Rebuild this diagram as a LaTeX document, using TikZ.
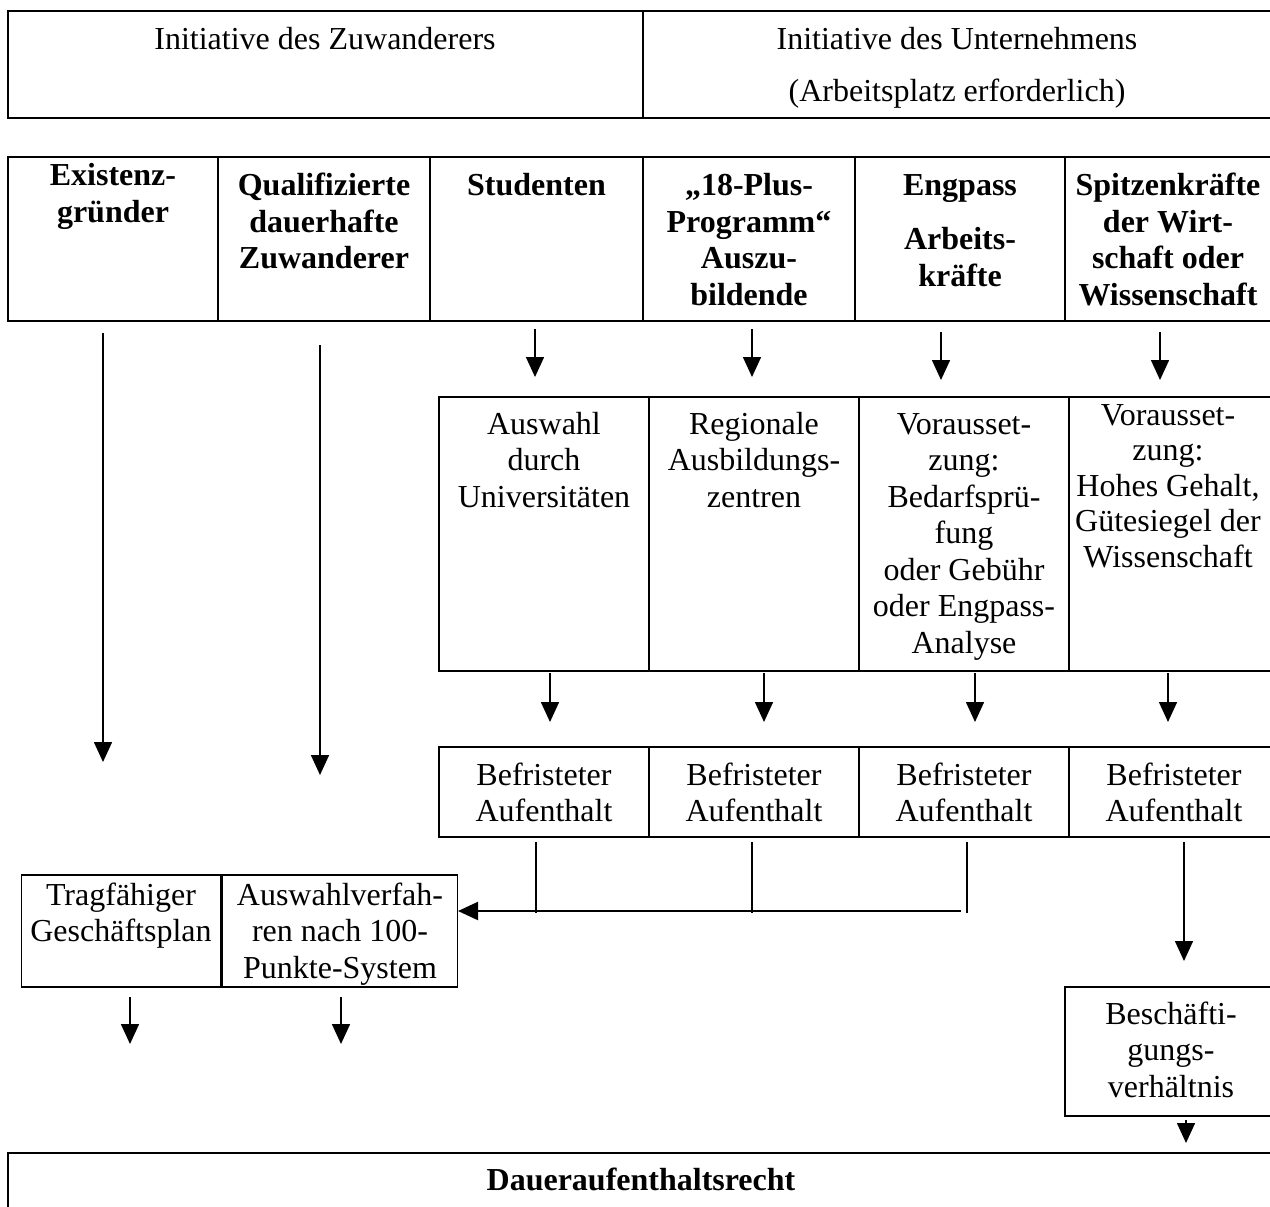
\documentclass[tikz,border=0pt]{standalone}
\usepackage{fontspec}
\setmainfont{Liberation Serif}
\usetikzlibrary{arrows.meta,fit}
\begin{document}
\begin{tikzpicture}[x=0.5pt,y=-0.5pt,
  box/.style={draw, line width=0.75pt, inner sep=0pt, rectangle},
  hbox/.style={box, line width=1pt},
  txt/.style={align=center, inner sep=0pt, anchor=north, font=\fontsize{16}{18.25}\selectfont},
  btxt/.style={txt, font=\fontsize{16}{18.25}\selectfont\bfseries},
  arr/.style={line width=0.8pt, -{Triangle[width=9pt,length=10pt]}},
  ln/.style={line width=0.7pt}]
\useasboundingbox (0,0) rectangle (1270,1206);
\clip (0,0) rectangle (1270,1206);

% Row 1
\node[hbox, fit={(8,11) (643,118)}] (r1a) {};
\node[hbox, fit={(643,11) (1276,118)}] (r1b) {};
\node[txt] (t1a) at (325,24) {\strut Initiative des Zuwanderers};
\node[txt] (t1b) at (957,24) {\strut Initiative des Unternehmens\\[7.5pt](Arbeitsplatz erforderlich)};

% Row 2
\node[hbox, fit={(8,157) (218,321)}] (r2a) {};
\node[hbox, fit={(218,157) (430,321)}] (r2b) {};
\node[hbox, fit={(430,157) (643,321)}] (r2c) {};
\node[hbox, fit={(643,157) (855,321)}] (r2d) {};
\node[hbox, fit={(855,157) (1065,321)}] (r2e) {};
\node[hbox, fit={(1065,157) (1276,321)}] (r2f) {};
\node[btxt] (t2a) at (113,160) {\strut Existenz-\\gründer};
\node[btxt] (t2b) at (324,170) {\strut Qualifizierte\\dauerhafte\\Zuwanderer};
\node[btxt] (t2c) at (536.5,170) {\strut Studenten};
\node[btxt] (t2d) at (749,170) {\strut „18-Plus-\\Programm“\\Auszu-\\bildende};
\node[btxt] (t2e) at (960,170) {\strut Engpass\\[8.75pt]Arbeits-\\kräfte};
\node[btxt] (t2f) at (1168,170) {\strut Spitzenkräfte\\der Wirt-\\schaft oder\\Wissenschaft};

% Row 3
\node[box, fit={(439,397) (649,671)}] (r3a) {};
\node[box, fit={(649,397) (859,671)}] (r3b) {};
\node[box, fit={(859,397) (1069,671)}] (r3c) {};
\node[box, fit={(1069,397) (1279,671)}] (r3d) {};
\node[txt] (t3a) at (544,408.5) {\strut Auswahl\\durch\\Universitäten};
\node[txt] (t3b) at (754,408.5) {\strut Regionale\\Ausbildungs-\\zentren};
\node[txt] (t3c) at (964,408.5) {\strut Vorausset-\\zung:\\Bedarfsprü-\\fung\\oder Gebühr\\oder Engpass-\\Analyse};
\node[txt, font=\fontsize{16}{17.75}\selectfont] (t3d) at (1168,400) {\strut Vorausset-\\zung:\\Hohes Gehalt,\\Gütesiegel der\\Wissenschaft};

% Row 4
\node[box, fit={(439,747) (649,837)}] (r4a) {};
\node[box, fit={(649,747) (859,837)}] (r4b) {};
\node[box, fit={(859,747) (1069,837)}] (r4c) {};
\node[box, fit={(1069,747) (1279,837)}] (r4d) {};
\node[txt] (t4a) at (544,759.5) {\strut Befristeter\\Aufenthalt};
\node[txt] (t4b) at (754,759.5) {\strut Befristeter\\Aufenthalt};
\node[txt] (t4c) at (964,759.5) {\strut Befristeter\\Aufenthalt};
\node[txt] (t4d) at (1174,759.5) {\strut Befristeter\\Aufenthalt};

% Row 5 (left)
\node[box, fit={(21.5,875) (221,987)}] (r5a) {};
\node[box, fit={(222.5,875) (457.5,987)}] (r5b) {};
\node[txt] (t5a) at (121,879.5) {\strut Tragfähiger\\Geschäftsplan};
\node[txt] (t5b) at (340,879.5) {\strut Auswahlverfah-\\ren nach 100-\\Punkte-System};

% Beschaeftigungsverhaeltnis
\node[box, fit={(1065,987) (1278,1116)}] (r5c) {};
\node[txt] (t5c) at (1171,998.5) {\strut Beschäfti-\\gungs-\\verhältnis};

% Bottom
\node[box, fit={(8,1153) (1280,1225)}] (r6) {};
\node[btxt] (t6) at (641,1164.5) {\strut Daueraufenthaltsrecht};

% Arrows
\foreach \n/\x/\a/\b in {a1/535/329/377, a2/752/329/377, a3/941/332/380, a4/1160/332/380,
  l1/103/333/762, l2/320/345/775,
  b1/550/673/722, b2/764/673/722, b3/975/673/722, b4/1168/673/722,
  c4/1184/842/961, d1/130/997/1044, d2/341/997/1044, e1/1186/1120/1143}{
  \coordinate (\n s) at (\x,\a);
  \coordinate (\n e) at (\x,\b);
  \draw[arr] (\n s) -- (\n e);
}

% Merging lines
\foreach \n/\x in {m1/536, m2/752, m3/967}{
  \coordinate (\n s) at (\x,842);
  \coordinate (\n e) at (\x,913);
  \draw[ln] (\n s) -- (\n e);
}
\coordinate (hs) at (961,911);
\coordinate (he) at (458,911);
\draw[arr, line width=1pt] (hs) -- (he);
\end{tikzpicture}
\end{document}
